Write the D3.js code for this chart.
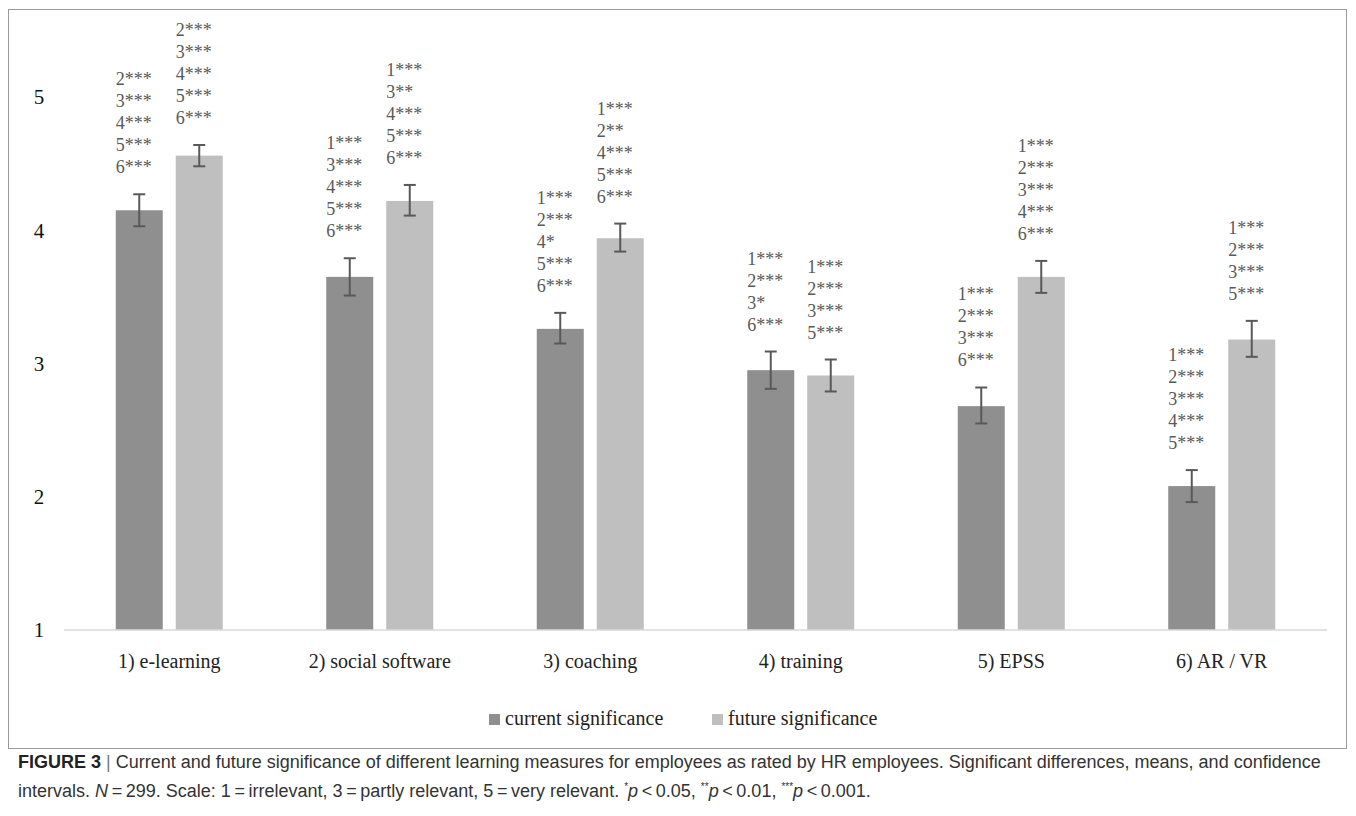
<!DOCTYPE html>
<html>
<head>
<meta charset="utf-8">
<script src="https://cdn.jsdelivr.net/npm/d3@7"></script>
<style>
  body { margin: 0; background: #fff; }
  svg { display: block; }
</style>
</head>
<body>
<svg id="chart"></svg>
<script>
// Chart data
const categories = ["1) e-learning", "2) social software", "3) coaching", "4) training", "5) EPSS", "6) AR / VR"];
const seriesNames = ["current significance", "future significance"];
const currentMean = [4.15, 3.65, 3.26, 2.95, 2.68, 2.08];
const currentLow  = [4.03, 3.51, 3.15, 2.81, 2.55, 1.96];
const currentHigh = [4.27, 3.79, 3.38, 3.09, 2.82, 2.20];
const futureMean  = [4.56, 4.22, 3.94, 2.91, 3.65, 3.18];
const futureLow   = [4.48, 4.11, 3.84, 2.79, 3.53, 3.05];
const futureHigh  = [4.64, 4.34, 4.05, 3.03, 3.77, 3.32];
const currentSig = [
  ["2***", "3***", "4***", "5***", "6***"],
  ["1***", "3***", "4***", "5***", "6***"],
  ["1***", "2***", "4*", "5***", "6***"],
  ["1***", "2***", "3*", "6***"],
  ["1***", "2***", "3***", "6***"],
  ["1***", "2***", "3***", "4***", "5***"]
];
const futureSig = [
  ["2***", "3***", "4***", "5***", "6***"],
  ["1***", "3**", "4***", "5***", "6***"],
  ["1***", "2**", "4***", "5***", "6***"],
  ["1***", "2***", "3***", "5***"],
  ["1***", "2***", "3***", "4***", "6***"],
  ["1***", "2***", "3***", "5***"]
];
const yTicks = [1, 2, 3, 4, 5];

const W = 1356, H = 816;
const colors = { "current significance": "#8f8f8f", "future significance": "#bfbfbf" };
const serif = "'Liberation Serif', 'Times New Roman', serif";

const svg = d3.select("#chart").attr("width", W).attr("height", H);

// outer frame of the figure
svg.append("rect")
  .attr("x", 8.5).attr("y", 9.5)
  .attr("width", 1338).attr("height", 739)
  .attr("fill", "none")
  .attr("stroke", "#9a9a9a")
  .attr("stroke-width", 1);

// scales
const x0 = d3.scaleBand().domain(categories).range([64, 1327]).padding(0);
const x1 = d3.scaleBand().domain(seriesNames).range([0, x0.bandwidth()])
  .paddingInner(0.2167).paddingOuter(0.8625);
const y = d3.scaleLinear().domain([1, 5]).range([630, 97]);

// combine rows
const rows = categories.map((c, i) => ({
  cat: c,
  bars: [
    { s: seriesNames[0], mean: currentMean[i], lo: currentLow[i], hi: currentHigh[i], sig: currentSig[i] },
    { s: seriesNames[1], mean: futureMean[i], lo: futureLow[i], hi: futureHigh[i], sig: futureSig[i] }
  ]
}));

// y tick labels (no axis line)
svg.append("g").selectAll("text")
  .data(yTicks)
  .enter().append("text")
  .attr("x", 39)
  .attr("y", d => y(d))
  .attr("dy", "0.35em")
  .attr("text-anchor", "middle")
  .attr("font-family", serif)
  .attr("font-size", 21)
  .attr("fill", "#111")
  .text(d => d);

// bars
const groups = svg.append("g").selectAll("g")
  .data(rows)
  .enter().append("g")
  .attr("transform", d => `translate(${x0(d.cat)},0)`);

const bar = groups.selectAll("g.bar")
  .data(d => d.bars)
  .enter().append("g")
  .attr("class", "bar");

bar.append("rect")
  .attr("x", d => x1(d.s))
  .attr("y", d => y(d.mean))
  .attr("width", x1.bandwidth())
  .attr("height", d => y(1) - y(d.mean))
  .attr("fill", d => colors[d.s]);

// error bars
const cap = 6;
bar.append("line")
  .attr("x1", d => x1(d.s) + x1.bandwidth() / 2)
  .attr("x2", d => x1(d.s) + x1.bandwidth() / 2)
  .attr("y1", d => y(d.lo))
  .attr("y2", d => y(d.hi))
  .attr("stroke", "#595959").attr("stroke-width", 2);
bar.append("line")
  .attr("x1", d => x1(d.s) + x1.bandwidth() / 2 - cap)
  .attr("x2", d => x1(d.s) + x1.bandwidth() / 2 + cap)
  .attr("y1", d => y(d.hi)).attr("y2", d => y(d.hi))
  .attr("stroke", "#595959").attr("stroke-width", 2);
bar.append("line")
  .attr("x1", d => x1(d.s) + x1.bandwidth() / 2 - cap)
  .attr("x2", d => x1(d.s) + x1.bandwidth() / 2 + cap)
  .attr("y1", d => y(d.lo)).attr("y2", d => y(d.lo))
  .attr("stroke", "#595959").attr("stroke-width", 2);

// significance labels stacked above each error bar
const lineGap = 22;
bar.append("text")
  .attr("font-family", serif)
  .attr("font-size", 18)
  .attr("fill", "#595959")
  .each(function(d) {
    const t = d3.select(this);
    const n = d.sig.length;
    d.sig.forEach((s, k) => {
      t.append("tspan")
        .attr("x", x1(d.s))
        .attr("y", y(d.hi) - 21 - (n - 1 - k) * lineGap)
        .text(s);
    });
  });

// x axis baseline and category labels
svg.append("line")
  .attr("x1", 64).attr("x2", 1327)
  .attr("y1", y(1)).attr("y2", y(1))
  .attr("stroke", "#d9d9d9").attr("stroke-width", 1.5);

svg.append("g").selectAll("text")
  .data(categories)
  .enter().append("text")
  .attr("x", d => x0(d) + x0.bandwidth() / 2)
  .attr("y", 668)
  .attr("text-anchor", "middle")
  .attr("font-family", serif)
  .attr("font-size", 20)
  .attr("fill", "#222")
  .text(d => d);

// legend
const legendX = [489, 712];
const legend = svg.append("g").selectAll("g")
  .data(seriesNames)
  .enter().append("g")
  .attr("transform", (d, i) => `translate(${legendX[i]},714)`);
legend.append("rect")
  .attr("width", 11).attr("height", 11)
  .attr("fill", d => colors[d]);
legend.append("text")
  .attr("x", 16).attr("y", 11)
  .attr("font-family", serif)
  .attr("font-size", 20)
  .attr("fill", "#222")
  .text(d => d);

// caption
const sans = "'Liberation Sans', Arial, sans-serif";
const cap1 = svg.append("text")
  .attr("x", 18).attr("y", 768)
  .attr("font-family", sans)
  .attr("font-size", 18)
  .attr("fill", "#333");
cap1.append("tspan").attr("font-weight", "bold").attr("fill", "#222").text("FIGURE 3");
cap1.append("tspan").attr("fill", "#777").text(" | ");
cap1.append("tspan").text("Current and future significance of different learning measures for employees as rated by HR employees. Significant differences, means, and confidence");

const cap2 = svg.append("text")
  .attr("x", 18).attr("y", 797)
  .attr("font-family", sans)
  .attr("font-size", 18)
  .attr("fill", "#333");
cap2.append("tspan").text("intervals. ");
cap2.append("tspan").attr("font-style", "italic").text("N");
cap2.append("tspan").text("\u2009=\u2009299. Scale: 1\u2009=\u2009irrelevant, 3\u2009=\u2009partly relevant, 5\u2009=\u2009very relevant. ");
cap2.append("tspan").attr("font-size", 10).attr("dy", -7).text("*");
cap2.append("tspan").attr("font-style", "italic").attr("dy", 7).text("p");
cap2.append("tspan").text("\u2009<\u20090.05, ");
cap2.append("tspan").attr("font-size", 10).attr("dy", -7).text("**");
cap2.append("tspan").attr("font-style", "italic").attr("dy", 7).text("p");
cap2.append("tspan").text("\u2009<\u20090.01, ");
cap2.append("tspan").attr("font-size", 10).attr("dy", -7).text("***");
cap2.append("tspan").attr("font-style", "italic").attr("dy", 7).text("p");
cap2.append("tspan").text("\u2009<\u20090.001.");
</script>
</body>
</html>
